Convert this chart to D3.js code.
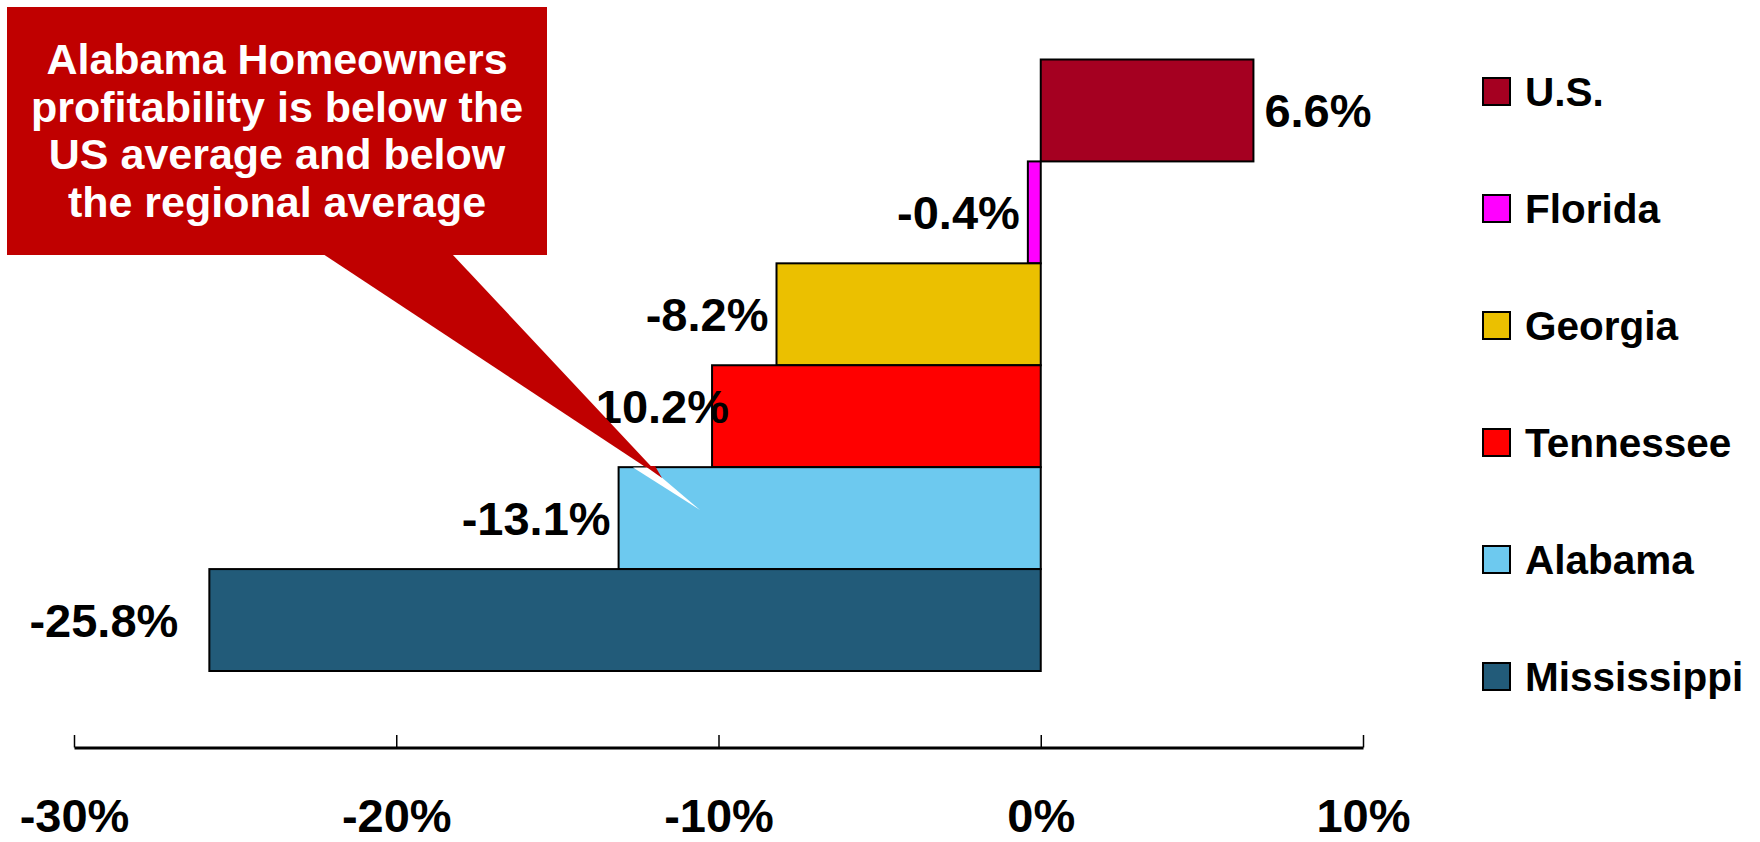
<!DOCTYPE html>
<html>
<head>
<meta charset="utf-8">
<script src="https://cdn.jsdelivr.net/npm/d3@7/dist/d3.min.js"></script>
<style>
  html, body { margin: 0; padding: 0; background: #ffffff; }
  svg { display: block; }
  text { font-family: "Liberation Sans", Arial, Helvetica, sans-serif; font-weight: bold; }
</style>
</head>
<body>
<svg id="chart" width="1760" height="842"></svg>
<script>
// ---- data ----
const categories = ["U.S.", "Florida", "Georgia", "Tennessee", "Alabama", "Mississippi"];
const values = [6.6, -0.4, -8.2, -10.2, -13.1, -25.8];
const colors = ["#A50021", "#FF00FF", "#EBC000", "#FF0000", "#6DC9EF", "#225B79"];
const tickValues = [-30, -20, -10, 0, 10];
const tickLabels = ["-30%", "-20%", "-10%", "0%", "10%"];
const calloutLines = [
  "Alabama Homeowners",
  "profitability is below the",
  "US average and below",
  "the regional average"
];

// ---- layout ----
const svg = d3.select("#chart");
const x = d3.scaleLinear().domain([-30, 10]).range([74, 1363]);
const y = d3.scaleBand().domain(categories).range([59.5, 671]).padding(0);
const axisY = 747.5;

const rows = categories.map((c, i) => ({ name: c, value: values[i], color: colors[i] }));

// bars
svg.append("g").selectAll("rect").data(rows).join("rect")
  .attr("x", d => x(Math.min(0, d.value)))
  .attr("y", d => y(d.name))
  .attr("width", d => Math.abs(x(d.value) - x(0)))
  .attr("height", y.bandwidth())
  .attr("fill", d => d.color)
  .attr("stroke", "#000")
  .attr("stroke-width", 2);

// data labels
const labelSize = 47;
const nudge = { "Mississippi": { dx: -23, dy: 0 }, "Tennessee": { dx: 25, dy: -10 } };
const fmt = v => v.toFixed(1) + "%";
svg.append("g").selectAll("text").data(rows).join("text")
  .attr("x", d => {
    const n = nudge[d.name] || { dx: 0 };
    return d.value >= 0 ? x(d.value) + 11 + n.dx : x(d.value) - 8 + n.dx;
  })
  .attr("y", d => {
    const n = nudge[d.name] || { dy: 0 };
    return y(d.name) + y.bandwidth() / 2 + labelSize * 0.358 + n.dy;
  })
  .attr("text-anchor", d => d.value >= 0 ? "start" : "end")
  .attr("font-size", labelSize)
  .attr("fill", "#000")
  .text(d => fmt(d.value));

// x axis
const axis = d3.axisBottom(x).tickValues(tickValues).tickSize(0).tickFormat((d, i) => tickLabels[i]);
const gAxis = svg.append("g").attr("transform", `translate(0,${axisY})`).call(axis);
gAxis.select(".domain").attr("stroke", "#000").attr("stroke-width", 3);
gAxis.selectAll(".tick line").remove();
gAxis.selectAll(".tick").append("line")
  .attr("y1", 0).attr("y2", -12.5).attr("stroke", "#000").attr("stroke-width", 1.5);
gAxis.selectAll(".tick text")
  .attr("y", 0).attr("dy", null)
  .attr("transform", "translate(0,84)")
  .attr("font-size", 47)
  .attr("font-family", "'Liberation Sans', Arial, sans-serif")
  .attr("font-weight", "bold")
  .attr("fill", "#000");

// legend (top-to-bottom in category order)
const legY = d3.scalePoint().domain(categories).range([91.5, 676.5]);
const leg = svg.append("g").selectAll("g").data(rows).join("g")
  .attr("transform", d => `translate(1483,${legY(d.name)})`);
leg.append("rect").attr("x", 0).attr("y", -13.5).attr("width", 27).attr("height", 27)
  .attr("fill", d => d.color).attr("stroke", "#000").attr("stroke-width", 2);
leg.append("text").attr("x", 42).attr("y", 40.5 * 0.358).attr("font-size", 40.5)
  .attr("fill", "#000").text(d => d.name);

// callout
const callout = svg.append("g");
callout.append("polygon")
  .attr("points", [[323, 254], [452, 254], [662, 478]].map(p => p.join(",")).join(" "))
  .attr("fill", "#C00000");
callout.append("polygon")
  .attr("points", [[633, 467.5], [650, 467.5], [700, 510]].map(p => p.join(",")).join(" "))
  .attr("fill", "#ffffff");
callout.append("polygon")
  .attr("points", [[645, 466], [655, 466], [662, 478]].map(p => p.join(",")).join(" "))
  .attr("fill", "#C00000");
callout.append("rect").attr("x", 7).attr("y", 7).attr("width", 540).attr("height", 248)
  .attr("fill", "#C00000");
callout.selectAll("text").data(calloutLines).join("text")
  .attr("x", 277)
  .attr("y", (d, i) => 74 + i * 47.5)
  .attr("text-anchor", "middle")
  .attr("font-size", 43)
  .attr("fill", "#ffffff")
  .text(d => d);
</script>
</body>
</html>
